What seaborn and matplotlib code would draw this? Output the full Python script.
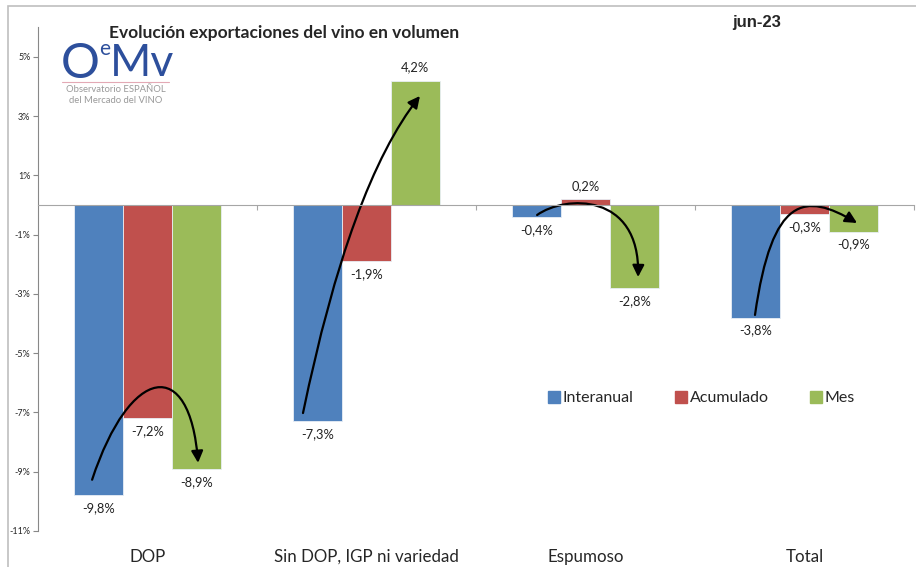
import numpy as np
import pandas as pd
import seaborn as sns
import matplotlib.pyplot as plt
from matplotlib.patches import Rectangle, FancyArrowPatch
from matplotlib.path import Path
from matplotlib.lines import Line2D

# Data (% change in export volume)
categories = ['DOP', 'Sin DOP, IGP ni variedad', 'Espumoso', 'Total']
series = ['Interanual', 'Acumulado', 'Mes']
interanual = [-9.8, -7.3, -0.4, -3.8]
acumulado = [-7.2, -1.9, 0.2, -0.3]
mes = [-8.9, 4.2, -2.8, -0.9]
colors = {'Interanual': '#4F81BD', 'Acumulado': '#C0504D', 'Mes': '#9BBB59'}

df = pd.DataFrame({
    'categoria': categories * 3,
    'serie': np.repeat(series, len(categories)),
    'valor': interanual + acumulado + mes,
})

sns.set_style('white')
plt.rcParams['font.family'] = ['Lato', 'DejaVu Sans']

fig = plt.figure(figsize=(9.16, 5.67), dpi=100)
ax = fig.add_axes([0.0415, 0.0635, 0.9563, 0.8885])

sns.barplot(data=df, x='categoria', y='valor', hue='serie', order=categories,
            hue_order=series, palette=colors, saturation=1, width=0.67,
            edgecolor='#e8eef5', linewidth=0.6, ax=ax, legend=False)

# value labels with comma decimals
for cont in ax.containers:
    ax.bar_label(cont, fmt=lambda v: f'{v:.1f}%'.replace('.', ','),
                 padding=5, fontsize=9.3, color='#222222')

ax.set_xlim(-0.5, 3.5)
ax.set_ylim(-11, 6)
ax.set_yticks(np.arange(-11, 6, 2))
ax.set_yticklabels([f'{t}%' for t in np.arange(-11, 6, 2)], fontsize=6.5)
ax.tick_params(axis='y', left=True, length=3.5, width=0.8, color='#888888', pad=2)
ax.set_xlabel('')
ax.set_ylabel('')

# x axis line at zero with boundary ticks
for s in ['top', 'right']:
    ax.spines[s].set_visible(False)
ax.spines['left'].set_color('#888888')
ax.spines['bottom'].set_position(('data', 0))
ax.spines['bottom'].set_color('#a6a6a6')
ax.set_xticks([0.5, 1.5, 2.5, 3.5])
ax.set_xticklabels([])
ax.tick_params(axis='x', bottom=True, length=3.5, width=0.8, color='#a6a6a6', direction='out')

sec = ax.secondary_xaxis('bottom')
sec.set_xticks(range(len(categories)))
sec.set_xticklabels(categories, fontsize=12.2)
sec.tick_params(length=0, pad=13)
sec.spines['bottom'].set_visible(False)

# curved arrows
arrows = [
    [(-0.253, -9.27), (-0.080, -5.40), (0.194, -5.06), (0.231, -8.70)],
    [(0.710, -7.02), (0.925, 0.675), (1.244, 3.68)],
    [(1.779, -0.337), (1.906, 0.337), (2.249, 0.438), (2.240, -2.43)],
    [(2.774, -3.71), (2.852, 0.337), (3.002, 0.438), (3.240, -0.607)],
]
for pts in arrows:
    code = Path.CURVE4 if len(pts) == 4 else Path.CURVE3
    p = Path(pts, [Path.MOVETO] + [code] * (len(pts) - 1))
    arr = FancyArrowPatch(path=p, arrowstyle='-|>,head_length=0.5,head_width=0.25',
                          mutation_scale=14, color='black', lw=1.6)
    ax.add_patch(arr)

# legend
handles = [Line2D([], [], marker='s', ls='', markersize=8, color=colors[s]) for s in series]
fig.legend(handles, series, loc='center left', bbox_to_anchor=(0.583, 0.298),
           ncol=3, frameon=False, fontsize=11.5, handlelength=0.7,
           handletextpad=0.2, columnspacing=2.6)

# titles
fig.text(0.310, 0.942, 'Evolución exportaciones del vino en volumen',
         fontsize=12.5, fontweight='bold', ha='center', va='center')
fig.text(0.826, 0.961, 'jun-23', fontsize=12, fontweight='bold', ha='center',
         va='center', family='Liberation Sans')

# logo
logo_blue = '#2d4f9c'
fig.text(0.066, 0.888, 'O', fontsize=35, color=logo_blue, va='center', ha='left')
fig.text(0.108, 0.914, 'e', fontsize=15, color=logo_blue, va='center', ha='left')
fig.text(0.120, 0.888, 'Mv', fontsize=32, color=logo_blue, va='center', ha='left')
fig.add_artist(Line2D([0.068, 0.184], [0.855, 0.855], color='#e3a9b5', lw=0.8))
fig.text(0.126, 0.843, 'Observatorio ESPAÑOL', fontsize=6.8, color='#9a9a9a',
         ha='center', va='center')
fig.text(0.126, 0.823, 'del Mercado del VINO', fontsize=6.8, color='#9a9a9a',
         ha='center', va='center')

# outer frame
fig.add_artist(Rectangle((0.0087, -0.05), 1.2, 1.0394, transform=fig.transFigure,
                         fill=False, edgecolor='#bfbfbf', lw=1.2))

fig.savefig('out.png', dpi=100)
